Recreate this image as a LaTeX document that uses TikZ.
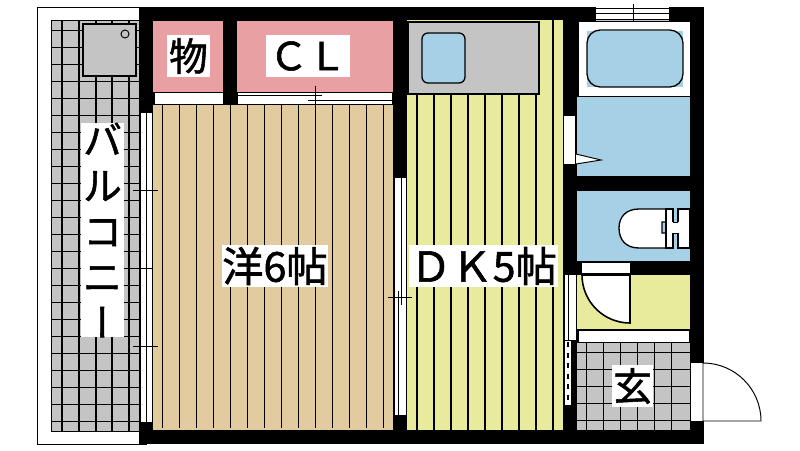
\documentclass[tikz,border=0pt]{standalone}
\usepackage{fontspec}
\usepackage{tikz}
\newfontfamily\cjk[FakeBold=1.4]{Noto Sans CJK JP}
\newfontfamily\cjkvert[RawFeature={+vert},FakeBold=1.4]{Noto Sans CJK JP}
\definecolor{tanfloor}{HTML}{E3CBA0}
\definecolor{pinkfloor}{HTML}{E8A0A3}
\definecolor{yellowfloor}{HTML}{E8EA9C}
\definecolor{bluefloor}{HTML}{A6D0E6}
\definecolor{greyfloor}{HTML}{C4C4C4}
\tikzset{
    thin line/.style={line width=0.55pt, black},
    grid line/.style={line width=0.75pt, black},
    label box/.style={fill=white, inner sep=0pt, font=\cjk\fontsize{22}{24}\selectfont},
    room box/.style={label box, font=\cjk\fontsize{23.5}{25}\selectfont, minimum height=42*0.02cm},
}

\begin{document}
\begin{tikzpicture}[x=0.02cm, y=-0.02cm]
    \useasboundingbox (0,0) rectangle (800,450);

    \draw[thin line, fill=white] (37,7) rectangle (146,444);
    \fill[greyfloor] (51,20) rectangle (139,431);
    \draw[thin line] (51,20) -- (139,20);
    \draw[thin line] (51,20) -- (51,431) -- (139,431);
    \foreach \x in {62,79,96,112,129}
        \draw[grid line] (\x,20) -- (\x,431);
    \foreach \k in {0,...,23}
        \draw[grid line] (51,30.5+17*\k) -- (139,30.5+17*\k);
    \draw[thin line, fill=greyfloor, line width=0.8pt] (83,24) rectangle (136,76);
    \draw[thin line, fill=greyfloor] (125,34) circle (4);

    \fill[black] (139,7) rectangle (704,444);

    \fill[pinkfloor] (153,21) rectangle (223,92);
    \fill[pinkfloor] (237,21) rectangle (393,92);
    \fill[white] (155,93) rectangle (223,104);
    \fill[white] (238,93) rectangle (392,104);
    \draw[thin line] (238,95) -- (322,95);
    \draw[thin line] (308,100) -- (392,100);
    \draw[thin line] (315,86) -- (315,111);

    \fill[tanfloor] (153,105) rectangle (393,430);
    \foreach \k in {0,...,13}
        \draw[grid line] (162.7+17*\k,105) -- (162.7+17*\k,428);
    \draw[thin line] (315,100) -- (315,111);

    \fill[white] (140,113) rectangle (153,422);
    \foreach \x in {140,146,152}
        \draw[thin line] (\x,113) -- (\x,422);
    \draw[thin line] (133,190) -- (158,190);
    \draw[thin line] (140,268) -- (152,268);
    \draw[thin line] (133,346) -- (158,346);

    \fill[yellowfloor] (407,20) rectangle (563,430);
    \foreach \k in {0,...,8}
        \draw[grid line] (417+17*\k,94) -- (417+17*\k,430);
    \draw[grid line] (553,20) -- (553,94);
    \draw[thin line, fill=greyfloor, line width=0.8pt] (408,22) rectangle (539,94);
    \draw[grid line, fill=bluefloor, rounded corners=3.4pt] (422,33) rectangle (465,83);

    \fill[white] (394,178) rectangle (407,415);
    \foreach \x in {394,406.5}
        \draw[thin line] (\x,178) -- (\x,415);
    \draw[thin line] (401.5,178) -- (401.5,305);
    \draw[thin line] (398,291) -- (398,415);
    \draw[thin line] (388,297) -- (412,297);

    \fill[white] (596,7) rectangle (669,22);
    \foreach \y in {8,13,19}
        \draw[thin line] (596,\y) -- (669,\y);
    \fill[greyfloor] (596,20) rectangle (669,22);
    \draw[thin line] (633,4) -- (633,26);

    \draw[thin line, fill=white] (578,21) rectangle (690,96);
    \fill[bluefloor] (587,31) rectangle (683,87);
    \draw[grid line, rounded corners=7.5pt] (587,30) rectangle (683,87);
    \fill[bluefloor] (577,97) rectangle (690,176);
    \fill[white] (564,116) rectangle (575,164);
    \draw[thin line, fill=white] (576,154) -- (601,160) -- (576,164);

    \fill[bluefloor] (577,191) rectangle (690,261);
    \draw[grid line, fill=white] (666,209) -- (639,209) .. controls (626,209) and (619,217) .. (619,228)
        .. controls (619,240) and (626,248) .. (639,248) -- (666,248) -- (666,233) -- (662,233) -- (662,222) -- (666,222) -- cycle;
    \draw[grid line, fill=white] (666,209) rectangle (673,248);
    \draw[grid line, fill=white] (678,209) -- (690,209) -- (690,248) -- (678,248) -- cycle;
    \fill[white] (672,222) rectangle (679,233);
    \draw[thin line] (673,222) -- (678,222);
    \draw[thin line] (673,233) -- (678,233);

    \fill[white] (582,263) rectangle (630,273);
    \fill[yellowfloor] (577,275) rectangle (690,329);
    \fill[black] (563,262) rectangle (577,275);
    \draw[line width=0.9pt, fill=white] (582,275) .. controls (582,301.5) and (603.5,323) .. (630,323) -- (630,275) -- cycle;
    \draw[thin line, fill=white] (578,330) rectangle (689,342);

    \fill[white] (564,275) rectangle (576,340);
    \draw[thin line] (564,275) -- (564,340) -- (576,340);
    \draw[thin line] (568,275) -- (568,340);
    \draw[thin line] (576,275) -- (576,340);
    \fill[white] (565,341) rectangle (571,405);
    \draw[line width=0.9pt, dashed] (568,342) -- (568,404);

    \fill[greyfloor] (577,343) rectangle (690,430);
    \foreach \x in {586.7,603.7,620.7,637.7,654.7,671.7}
        \draw[grid line] (\x,343) -- (\x,430);
    \foreach \y in {352.7,369.7,386.7,403.7,420.7}
        \draw[grid line] (577,\y) -- (690,\y);

    \fill[white] (691,363) rectangle (703,421);
    \draw[thin line, fill=white] (703,363) .. controls (735,363) and (761,389) .. (761,421) -- (703,421) -- cycle;
    \draw[thin line] (691,421) -- (703,421);

    \node[label box, minimum width=43*0.02cm, minimum height=42*0.02cm] (storage) at (188.5,56) {物};
    \node[label box, minimum width=84*0.02cm, minimum height=42*0.02cm] (closet) at (308,56) {ＣＬ};
    \node[room box, minimum width=106*0.02cm] (western) at (275,266) {洋6帖};
    \node[room box, minimum width=149*0.02cm] (dining) at (483.5,266) {ＤＫ5帖};
    \node[label box, minimum width=41*0.02cm, minimum height=42*0.02cm] (entrance) at (632.5,386) {玄};
    \node[label box, minimum width=43*0.02cm, minimum height=212*0.02cm, align=center] (balcony) at (102.5,230)
        {バ\\[2pt]ル\\[2pt]コ\\[2pt]ニ\\[2pt]{\cjkvert ー}};
\end{tikzpicture}
\end{document}
